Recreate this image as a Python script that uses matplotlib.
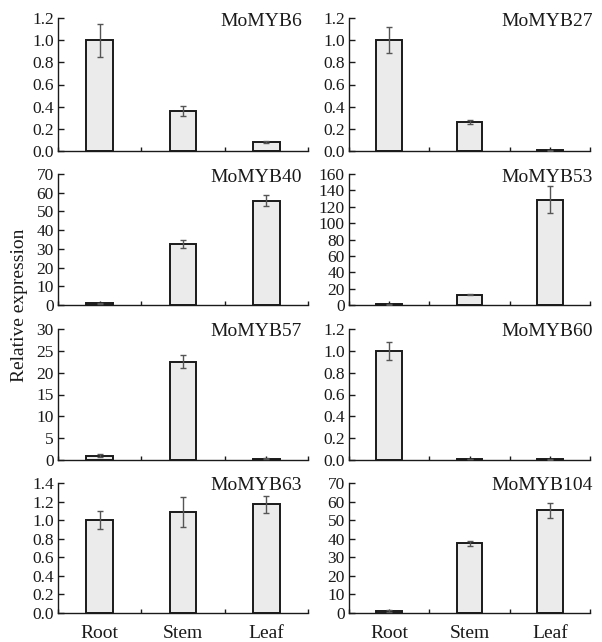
import matplotlib
matplotlib.use('Agg')
import matplotlib.pyplot as plt
import numpy as np
from matplotlib.ticker import FormatStrFormatter, FixedLocator

plt.rcParams['font.family'] = ['Liberation Serif', 'DejaVu Serif']

tissues = ['Root', 'Stem', 'Leaf']

# expression values (mean) and error (SD) per gene
genes = ['MoMYB6', 'MoMYB27', 'MoMYB40', 'MoMYB53',
         'MoMYB57', 'MoMYB60', 'MoMYB63', 'MoMYB104']
mean_myb6 = [1.0, 0.36, 0.08]
err_myb6 = [0.15, 0.045, 0.01]
mean_myb27 = [1.0, 0.26, 0.005]
err_myb27 = [0.12, 0.02, 0.002]
mean_myb40 = [1.0, 32.7, 55.8]
err_myb40 = [0.3, 2.0, 3.0]
mean_myb53 = [1.0, 12.5, 128.5]
err_myb53 = [0.4, 0.5, 16.5]
mean_myb57 = [1.0, 22.5, 0.3]
err_myb57 = [0.3, 1.5, 0.1]
mean_myb60 = [1.0, 0.01, 0.005]
err_myb60 = [0.08, 0.002, 0.002]
mean_myb63 = [1.0, 1.09, 1.17]
err_myb63 = [0.1, 0.16, 0.09]
mean_myb104 = [1.0, 37.5, 55.2]
err_myb104 = [0.4, 1.2, 4.2]

means = [mean_myb6, mean_myb27, mean_myb40, mean_myb53,
         mean_myb57, mean_myb60, mean_myb63, mean_myb104]
errs = [err_myb6, err_myb27, err_myb40, err_myb53,
        err_myb57, err_myb60, err_myb63, err_myb104]

# y axis max and step per panel
ymax = [1.2, 1.2, 70, 160, 30, 1.2, 1.4, 70]
ystep = [0.2, 0.2, 10, 20, 5, 0.2, 0.2, 10]

W, H = 602, 642
fig = plt.figure(figsize=(W / 100, H / 100), dpi=100)

col_x = [(58, 250), (349, 241)]           # left px, width px
row_y = [(18, 151), (174, 305), (329, 460), (483, 613)]  # top px, bottom px
title_right = [302, 593]

x = np.arange(3)
for i, g in enumerate(genes):
    r, c = divmod(i, 2)
    left, width = col_x[c]
    top, bottom = row_y[r]
    ax = fig.add_axes([left / W, 1 - bottom / H, width / W, (bottom - top) / H])

    ax.bar(x, means[i], width=0.32, color='#ebebeb', edgecolor='#1a1a1a',
           linewidth=1.4, zorder=2)
    ax.errorbar(x, means[i], yerr=errs[i], fmt='none', ecolor='#555555',
                elinewidth=1.0, capsize=2.5, capthick=1.0, zorder=3)

    ax.set_xlim(-0.5, 2.5)
    ax.set_ylim(0, ymax[i])
    ax.set_yticks(np.arange(0, ymax[i] + ystep[i] / 2, ystep[i]))
    if ystep[i] < 1:
        ax.yaxis.set_major_formatter(FormatStrFormatter('%.1f'))
    else:
        ax.yaxis.set_major_formatter(FormatStrFormatter('%d'))

    ax.xaxis.set_major_locator(FixedLocator([-0.5, 0.5, 1.5, 2.5]))
    ax.xaxis.set_minor_locator(FixedLocator(x))
    ax.set_xticklabels([])
    if r == 3:
        ax.set_xticks(x, minor=True)
        ax.set_xticklabels(tissues, minor=True, fontsize=14)

    for s in ['top', 'right']:
        ax.spines[s].set_visible(False)
    for s in ['left', 'bottom']:
        ax.spines[s].set_linewidth(1.0)
        ax.spines[s].set_color('#1a1a1a')

    ax.tick_params(axis='y', direction='in', length=4, width=1.0,
                   labelsize=12.5, pad=3, colors='#1a1a1a')
    ax.tick_params(axis='x', which='both', direction='in', length=3,
                   width=1.0, colors='#1a1a1a', pad=9)

    tx = (title_right[c] - left) / width
    ax.text(tx, 1 - 3 / (bottom - top), g, transform=ax.transAxes,
            ha='right', va='center', fontsize=14, color='#1a1a1a')

fig.text(20 / W, 1 - 305 / H, 'Relative expression', rotation=90,
         ha='center', va='center', fontsize=14, color='#1a1a1a')

fig.savefig('out.png', dpi=100)
